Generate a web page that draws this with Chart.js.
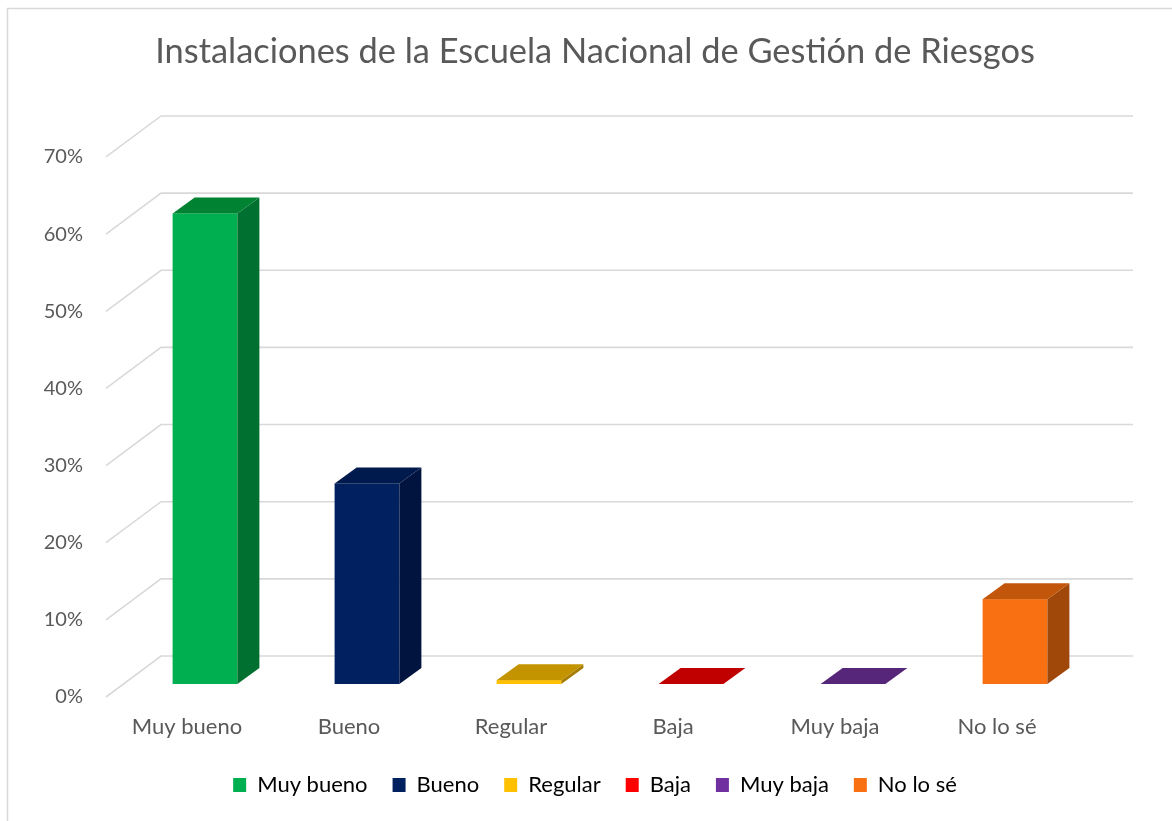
<!DOCTYPE html>
<html>
<head>
<meta charset="utf-8">
<script src="https://cdn.jsdelivr.net/npm/chart.js@4.4.0/dist/chart.umd.min.js"></script>
<style>
  html, body { margin: 0; padding: 0; background: #fff; }
  #wrap { width: 1172px; height: 821px; }
</style>
</head>
<body>
<div id="wrap"><canvas id="chart" width="1172" height="821"></canvas></div>
<script>
// datos
var categorias = ["Muy bueno", "Bueno", "Regular", "Baja", "Muy baja", "No lo sé"];
var porcentajes = [61, 26, 0.5, 0, 0, 11];
var ticksY = [0, 10, 20, 30, 40, 50, 60, 70];

var coloresFrente = ["#00B050", "#002060", "#FFC000", "#FF0000", "#7030A0", "#F97012"];
var coloresTapa   = ["#008233", "#001A4E", "#C49400", "#C00000", "#56267A", "#C2560B"];
var coloresLado   = ["#007030", "#00143F", "#A67D00", "#A00000", "#4A2068", "#A0480A"];

var GRIS = "#595959";
var FUENTE = "Lato, 'Open Sans', sans-serif";

// perspectiva: profundidad del piso y de las barras
var PISO_DX = 55, PISO_DY = -41;
var BARRA_OFF_DX = 18, BARRA_OFF_DY = -13;
var BARRA_DX = 22, BARRA_DY = -16;

var efecto3d = {
  id: 'efecto3d',
  beforeDraw: function(chart) {
    var ctx = chart.ctx;
    ctx.save();
    ctx.strokeStyle = "#D9D9D9";
    ctx.lineWidth = 1.5;
    ctx.strokeRect(7.5, 8.5, 1300, 1000);
    ctx.restore();
  },
  beforeDatasetsDraw: function(chart) {
    var ctx = chart.ctx, x = chart.scales.x, y = chart.scales.y;
    ctx.save();
    ctx.strokeStyle = "#D9D9D9";
    ctx.lineWidth = 1.6;
    ticksY.forEach(function(v) {
      var py = y.getPixelForValue(v);
      ctx.beginPath();
      ctx.moveTo(x.left, py);
      ctx.lineTo(x.left + PISO_DX, py + PISO_DY);
      ctx.lineTo(x.right + PISO_DX, py + PISO_DY);
      ctx.stroke();
    });
    ctx.restore();
  },
  beforeDatasetDraw: function() { return false; },
  afterDatasetsDraw: function(chart) {
    var ctx = chart.ctx, x = chart.scales.x, y = chart.scales.y;
    var meta = chart.getDatasetMeta(0);
    ctx.save();
    meta.data.forEach(function(bar, i) {
      var w = bar.width;
      var izq = x.getPixelForValue(i) - w / 2 + BARRA_OFF_DX;
      var der = izq + w;
      var base = y.getPixelForValue(0) + BARRA_OFF_DY;
      var tope = y.getPixelForValue(porcentajes[i]) + BARRA_OFF_DY;
      // frente
      ctx.fillStyle = coloresFrente[i];
      ctx.fillRect(izq, tope, w, base - tope);
      // lado
      ctx.fillStyle = coloresLado[i];
      ctx.beginPath();
      ctx.moveTo(der, tope);
      ctx.lineTo(der + BARRA_DX, tope + BARRA_DY);
      ctx.lineTo(der + BARRA_DX, base + BARRA_DY);
      ctx.lineTo(der, base);
      ctx.closePath();
      ctx.fill();
      // tapa
      ctx.fillStyle = coloresTapa[i];
      ctx.beginPath();
      ctx.moveTo(izq, tope);
      ctx.lineTo(izq + BARRA_DX, tope + BARRA_DY);
      ctx.lineTo(der + BARRA_DX, tope + BARRA_DY);
      ctx.lineTo(der, tope);
      ctx.closePath();
      ctx.fill();
    });
    ctx.restore();
  }
};

new Chart(document.getElementById("chart"), {
  type: 'bar',
  data: {
    labels: categorias,
    datasets: [{
      data: porcentajes,
      backgroundColor: coloresFrente,
      barPercentage: 0.5,
      categoryPercentage: 0.8
    }]
  },
  options: {
    responsive: false,
    animation: false,
    layout: { padding: { left: 18, right: 0, top: 0, bottom: 15 } },
    plugins: {
      title: {
        display: true,
        text: 'Instalaciones de la Escuela Nacional de Gestión de Riesgos',
        color: GRIS,
        font: { family: FUENTE, size: 34.4, weight: 'normal', lineHeight: 1.2 },
        padding: { top: 31, bottom: 84.7 }
      },
      legend: {
        position: 'bottom',
        labels: {
          color: GRIS,
          font: { family: FUENTE, size: 22 },
          boxWidth: 13,
          boxHeight: 14,
          padding: 25,
          generateLabels: function() {
            return categorias.map(function(c, i) {
              return { text: c, fillStyle: coloresFrente[i], strokeStyle: coloresFrente[i], lineWidth: 0, index: i };
            });
          }
        }
      },
      tooltip: { enabled: false }
    },
    scales: {
      x: {
        grid: { display: false, drawTicks: false },
        border: { display: false },
        ticks: { color: GRIS, font: { family: FUENTE, size: 22 }, padding: 17 },
        afterFit: function(s) { s.height = 52; }
      },
      y: {
        min: 0,
        max: 70,
        grid: { display: false, drawTicks: false },
        border: { display: false },
        ticks: {
          stepSize: 10,
          color: GRIS,
          font: { family: FUENTE, size: 20 },
          padding: 23,
          callback: function(v) { return v + '%'; }
        },
        afterFit: function(s) { s.width = 88; }
      },
      margenDer: {
        position: 'right',
        grid: { display: false, drawTicks: false },
        border: { display: false },
        ticks: { display: false },
        afterFit: function(s) { s.width = 94; }
      }
    }
  },
  plugins: [efecto3d]
});
</script>
</body>
</html>
